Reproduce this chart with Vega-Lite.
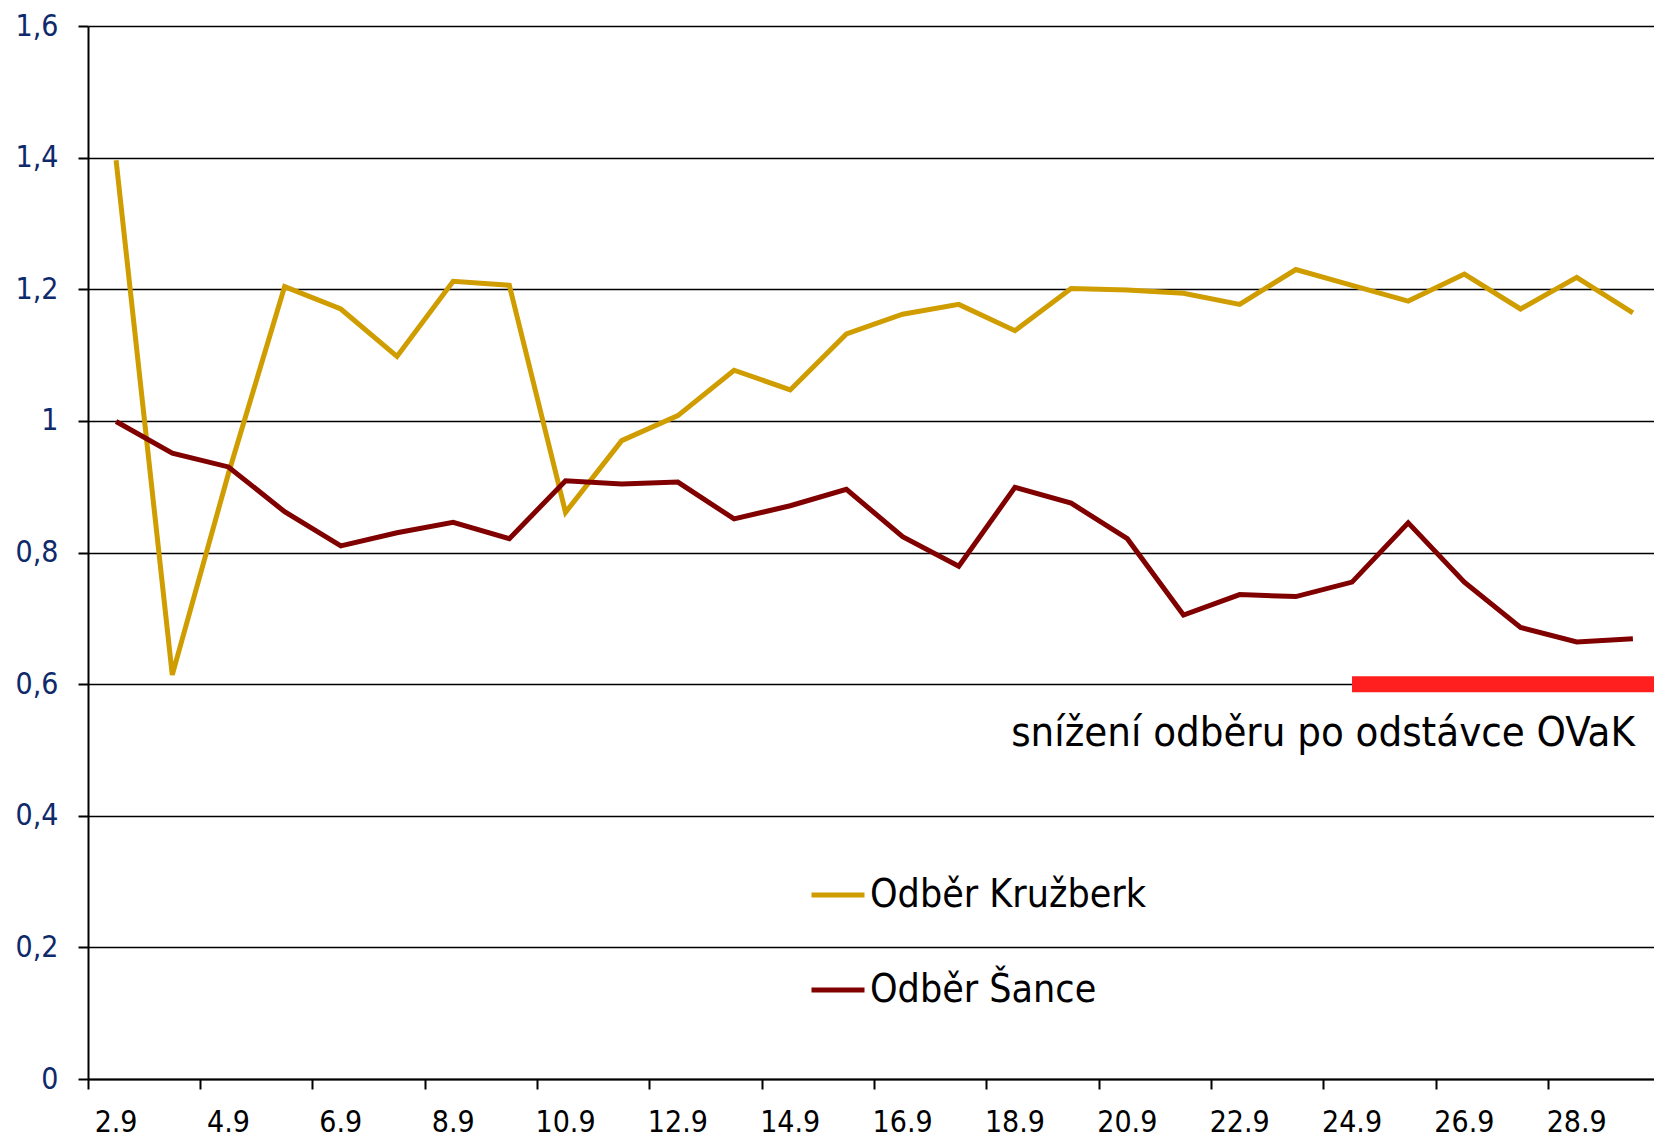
{
  "$schema": "https://vega.github.io/schema/vega-lite/v6.json",
  "width": 1573,
  "height": 1053,
  "autosize": {"type": "none"},
  "padding": {"left": 88, "top": 26, "right": -7, "bottom": 58},
  "background": "white",
  "config": {"view": {"stroke": null}, "font": "DejaVu Sans Condensed"},
  "datasets": {
    "series": [
      {"den": "2.9", "serie": "Odběr Kružberk", "hodnota": 1.396},
      {"den": "3.9", "serie": "Odběr Kružberk", "hodnota": 0.614},
      {"den": "4.9", "serie": "Odběr Kružberk", "hodnota": 0.92},
      {"den": "5.9", "serie": "Odběr Kružberk", "hodnota": 1.204},
      {"den": "6.9", "serie": "Odběr Kružberk", "hodnota": 1.17},
      {"den": "7.9", "serie": "Odběr Kružberk", "hodnota": 1.098},
      {"den": "8.9", "serie": "Odběr Kružberk", "hodnota": 1.212},
      {"den": "9.9", "serie": "Odběr Kružberk", "hodnota": 1.206},
      {"den": "10.9", "serie": "Odběr Kružberk", "hodnota": 0.861},
      {"den": "11.9", "serie": "Odběr Kružberk", "hodnota": 0.97},
      {"den": "12.9", "serie": "Odběr Kružberk", "hodnota": 1.008},
      {"den": "13.9", "serie": "Odběr Kružberk", "hodnota": 1.077},
      {"den": "14.9", "serie": "Odběr Kružberk", "hodnota": 1.047},
      {"den": "15.9", "serie": "Odběr Kružberk", "hodnota": 1.132},
      {"den": "16.9", "serie": "Odběr Kružberk", "hodnota": 1.162},
      {"den": "17.9", "serie": "Odběr Kružberk", "hodnota": 1.177},
      {"den": "18.9", "serie": "Odběr Kružberk", "hodnota": 1.137},
      {"den": "19.9", "serie": "Odběr Kružberk", "hodnota": 1.201},
      {"den": "20.9", "serie": "Odběr Kružberk", "hodnota": 1.199},
      {"den": "21.9", "serie": "Odběr Kružberk", "hodnota": 1.194},
      {"den": "22.9", "serie": "Odběr Kružberk", "hodnota": 1.177},
      {"den": "23.9", "serie": "Odběr Kružberk", "hodnota": 1.23},
      {"den": "24.9", "serie": "Odběr Kružberk", "hodnota": 1.206},
      {"den": "25.9", "serie": "Odběr Kružberk", "hodnota": 1.182},
      {"den": "26.9", "serie": "Odběr Kružberk", "hodnota": 1.223},
      {"den": "27.9", "serie": "Odběr Kružberk", "hodnota": 1.17},
      {"den": "28.9", "serie": "Odběr Kružberk", "hodnota": 1.218},
      {"den": "29.9", "serie": "Odběr Kružberk", "hodnota": 1.164},
      {"den": "2.9", "serie": "Odběr Šance", "hodnota": 0.999},
      {"den": "3.9", "serie": "Odběr Šance", "hodnota": 0.951},
      {"den": "4.9", "serie": "Odběr Šance", "hodnota": 0.93},
      {"den": "5.9", "serie": "Odběr Šance", "hodnota": 0.862},
      {"den": "6.9", "serie": "Odběr Šance", "hodnota": 0.81},
      {"den": "7.9", "serie": "Odběr Šance", "hodnota": 0.83},
      {"den": "8.9", "serie": "Odběr Šance", "hodnota": 0.846},
      {"den": "9.9", "serie": "Odběr Šance", "hodnota": 0.821},
      {"den": "10.9", "serie": "Odběr Šance", "hodnota": 0.909},
      {"den": "11.9", "serie": "Odběr Šance", "hodnota": 0.904},
      {"den": "12.9", "serie": "Odběr Šance", "hodnota": 0.907},
      {"den": "13.9", "serie": "Odběr Šance", "hodnota": 0.851},
      {"den": "14.9", "serie": "Odběr Šance", "hodnota": 0.871},
      {"den": "15.9", "serie": "Odběr Šance", "hodnota": 0.896},
      {"den": "16.9", "serie": "Odběr Šance", "hodnota": 0.824},
      {"den": "17.9", "serie": "Odběr Šance", "hodnota": 0.779},
      {"den": "18.9", "serie": "Odběr Šance", "hodnota": 0.899},
      {"den": "19.9", "serie": "Odběr Šance", "hodnota": 0.875},
      {"den": "20.9", "serie": "Odběr Šance", "hodnota": 0.821},
      {"den": "21.9", "serie": "Odběr Šance", "hodnota": 0.705},
      {"den": "22.9", "serie": "Odběr Šance", "hodnota": 0.736},
      {"den": "23.9", "serie": "Odběr Šance", "hodnota": 0.733},
      {"den": "24.9", "serie": "Odběr Šance", "hodnota": 0.755},
      {"den": "25.9", "serie": "Odběr Šance", "hodnota": 0.845},
      {"den": "26.9", "serie": "Odběr Šance", "hodnota": 0.755},
      {"den": "27.9", "serie": "Odběr Šance", "hodnota": 0.686},
      {"den": "28.9", "serie": "Odběr Šance", "hodnota": 0.664},
      {"den": "29.9", "serie": "Odběr Šance", "hodnota": 0.669}
    ],
    "note": [
      {"od": "24.9", "do": "29.9", "uroven": 0.6, "text": "snížení odběru po odstávce OVaK"}
    ]
  },
  "layer": [
    {
      "data": {"name": "series"},
      "mark": {"type": "line", "strokeWidth": 5},
      "encoding": {
        "x": {
          "field": "den",
          "type": "ordinal",
          "sort": null,
          "scale": {
            "domain": ["2.9","3.9","4.9","5.9","6.9","7.9","8.9","9.9","10.9","11.9","12.9","13.9","14.9","15.9","16.9","17.9","18.9","19.9","20.9","21.9","22.9","23.9","24.9","25.9","26.9","27.9","28.9","29.9"],
            "paddingInner": 0,
            "paddingOuter": 0
          },
          "axis": {
            "title": null,
            "values": ["2.9","4.9","6.9","8.9","10.9","12.9","14.9","16.9","18.9","20.9","22.9","24.9","26.9","28.9"],
            "bandPosition": 0,
            "labelAngle": 0,
            "labelFont": "DejaVu Sans Condensed",
            "labelFontSize": 30,
            "labelColor": "black",
            "labelPadding": 18,
            "tickSize": 10,
            "tickWidth": 2,
            "tickColor": "black",
            "domainColor": "black",
            "domainWidth": 2,
            "grid": false
          }
        },
        "y": {
          "field": "hodnota",
          "type": "quantitative",
          "scale": {"domain": [0, 1.6], "nice": false},
          "axis": {
            "title": null,
            "values": [0, 0.2, 0.4, 0.6, 0.8, 1, 1.2, 1.4, 1.6],
            "labelExpr": "replace(format(datum.value, '.1~f'), '.', ',')",
            "labelFont": "DejaVu Sans Condensed",
            "labelFontSize": 30,
            "labelColor": "#0E2A6B",
            "labelPadding": 20,
            "tickSize": 10,
            "tickWidth": 2,
            "tickColor": "black",
            "domainColor": "black",
            "domainWidth": 2,
            "grid": true,
            "gridColor": "black",
            "gridWidth": 1.6,
            "gridOpacity": 1
          }
        },
        "color": {
          "field": "serie",
          "type": "nominal",
          "scale": {"domain": ["Odběr Kružberk", "Odběr Šance"], "range": ["#CF9D00", "#800000"]},
          "legend": {
            "title": null,
            "orient": "none",
            "legendX": 721,
            "legendY": 840,
            "direction": "vertical",
            "symbolType": "stroke",
            "symbolSize": 2809,
            "symbolStrokeWidth": 5,
            "labelFont": "DejaVu Sans Condensed",
            "labelFontSize": 39,
            "labelColor": "black",
            "labelOffset": 3,
            "labelLimit": 600,
            "rowPadding": 46,
            "padding": 0
          }
        }
      }
    },
    {
      "data": {"name": "note"},
      "mark": {"type": "rule", "color": "#FF1F1F", "strokeWidth": 16},
      "encoding": {
        "x": {"field": "od", "type": "ordinal"},
        "x2": {"field": "do", "bandPosition": 1},
        "y": {"field": "uroven", "type": "quantitative"}
      }
    },
    {
      "data": {"name": "note"},
      "mark": {"type": "text", "align": "right", "baseline": "alphabetic", "fontSize": 41.5, "font": "DejaVu Sans Condensed", "color": "black", "dy": 62, "dx": 2},
      "encoding": {
        "x": {"field": "do", "type": "ordinal"},
        "y": {"field": "uroven", "type": "quantitative"},
        "text": {"field": "text"}
      }
    }
  ]
}
